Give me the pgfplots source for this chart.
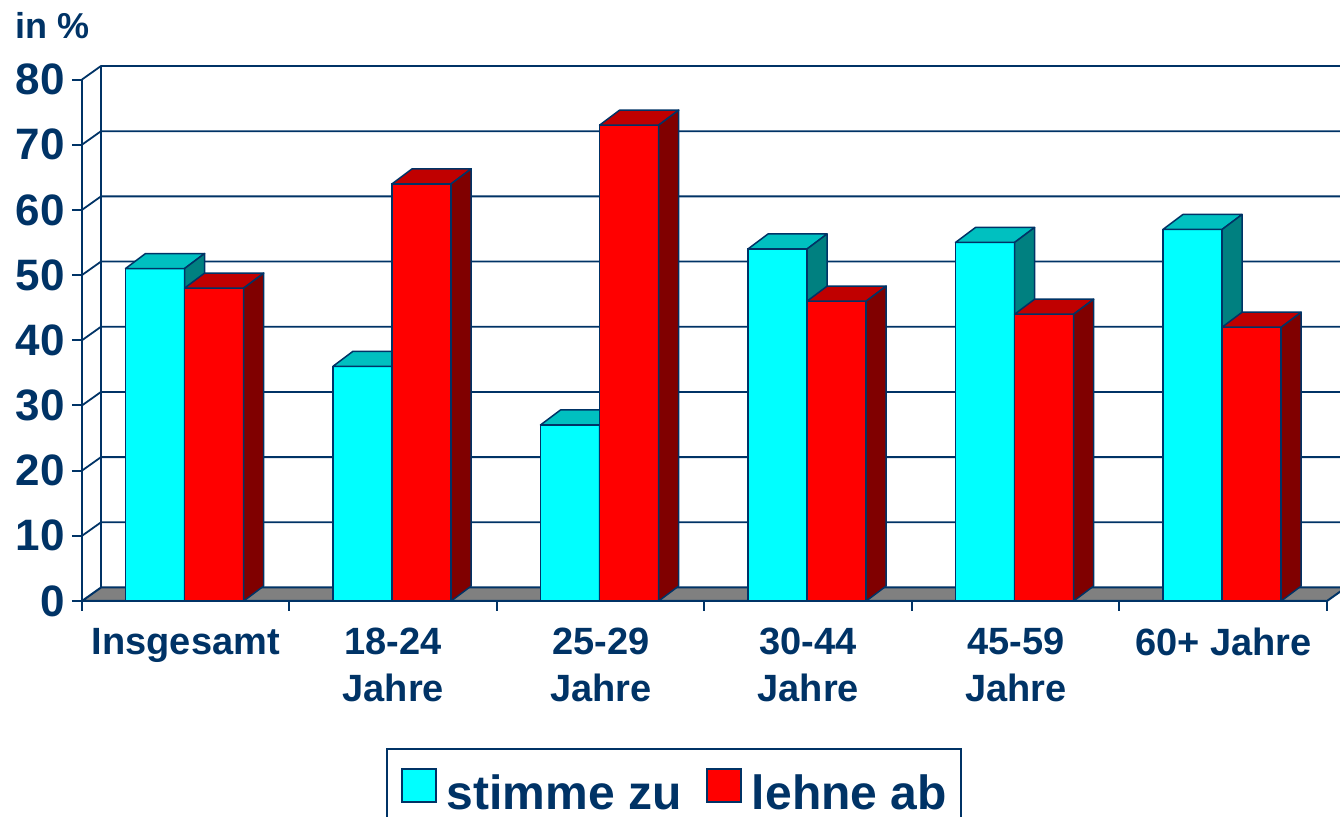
\documentclass[border=0pt]{standalone}
\usepackage{fontspec}
\setmainfont{Liberation Sans}
\usepackage{pgfplots}
\usepackage{pgfplotstable}
\pgfplotsset{compat=1.18}
\definecolor{navy}{HTML}{003366}
\definecolor{cyanfront}{HTML}{00FFFF}
\definecolor{redfront}{HTML}{FF0000}
\definecolor{cyantop}{HTML}{00C0C0}
\definecolor{cyanside}{HTML}{008080}
\definecolor{redtop}{HTML}{C00000}
\definecolor{redside}{HTML}{800000}
\definecolor{floorgray}{HTML}{808080}
\pgfdeclareplotmark{nothing}{}
\def\bw{14.78pt}
\def\dx{10pt}
\def\dy{7.5pt}
\def\yu{3.259375pt}
\pgfplotstableread{
x zu ab
0 51 48
1 36 64
2 27 73
3 54 46
4 55 44
5 57 42
}\datatable
\pgfplotsset{
  bar3d/.style n args={3}{
    scatter, only marks, mark=nothing, forget plot,
    visualization depends on={rawy \as \barh},
    scatter/@pre marker code/.code={%
      \filldraw[fill=#1, draw=navy, line width=0.75pt, line join=round]
        (-\bw,0pt) rectangle (\bw,{-\barh*\yu});
      \filldraw[fill=#2, draw=navy, line width=0.75pt, line join=round]
        (-\bw,0pt) -- ++(\dx,\dy) -- ++({2*\bw},0pt) -- (\bw,0pt) -- cycle;
      \filldraw[fill=#3, draw=navy, line width=0.75pt, line join=round]
        (\bw,0pt) -- ++(\dx,\dy) -- ({\bw+\dx},{\dy-\barh*\yu}) -- (\bw,{-\barh*\yu}) -- cycle;
    },
    scatter/@post marker code/.code={},
  },
  mylegend/.style={legend image code/.code={%
    \draw[##1, draw=navy, line width=0.75pt] (0pt,-4.25pt) rectangle (17pt,12.25pt);}},
}
\begin{document}
\begin{tikzpicture}
\path[use as bounding box] (0,0) rectangle (670pt,408.5pt);
\node[anchor=north west, inner sep=0pt, text=navy, font=\fontsize{18}{20}\selectfont\bfseries] at (7.5pt,402.5pt) {in \%};
\begin{axis}[
  at={(41pt,108pt)}, anchor=south west,
  scale only axis, width=622.5pt, height=260.75pt,
  xmin=0, xmax=6, ymin=0, ymax=80,
  clip=false,
  axis x line*=bottom, axis y line*=left,
  axis line style={-, draw=navy, line width=1pt},
  tick align=outside, major tick length=5pt,
  tick style={draw=navy, line width=1pt},
  xtick={0,1,2,3,4,5,6}, xticklabels={},
  ytick={0,10,...,80},
  /pgf/number format/assume math mode=true,
  yticklabel style={font=\fontsize{22}{22}\selectfont\bfseries, text=navy},
  extra x ticks={0.5,1.5,2.5,3.5,4.5,5.5},
  extra x tick labels={Insgesamt,{18-24\\Jahre},{25-29\\Jahre},{30-44\\Jahre},{45-59\\Jahre},{60+ Jahre}},
  extra x tick style={tick style={draw=none}, xticklabel style={align=center, anchor=north, inner sep=0pt, yshift=-8.5pt, font=\fontsize{19}{23.5}\selectfont\bfseries, text=navy}},
  legend columns=2,
  legend style={at={(0.4755,-0.2819)}, anchor=north, draw=navy, line width=1pt,
    font=\fontsize{24}{24}\selectfont\bfseries, text=navy,
    inner xsep=7pt, inner ysep=9.5pt, nodes={inner sep=0pt},
    /tikz/every odd column/.append style={column sep=5pt},
    /tikz/every even column/.append style={column sep=12.5pt}},
]
% floor
\filldraw[fill=floorgray, draw=navy, line width=1pt]
  (axis cs:0,0) -- (axis cs:6,0) -- ([shift={(9.5pt,6.75pt)}]axis cs:6,0) -- ([shift={(9.5pt,6.75pt)}]axis cs:0,0) -- cycle;
% back wall
\pgfplotsinvokeforeach{10,20,...,80}{
  \draw[navy, line width=0.9pt] (axis cs:0,#1) -- ([shift={(9.5pt,6.75pt)}]axis cs:0,#1) -- ([shift={(9.5pt,6.75pt)}]axis cs:6,#1);
}
\draw[navy, line width=1pt] ([shift={(9.5pt,6.75pt)}]axis cs:0,0) -- ([shift={(9.5pt,6.75pt)}]axis cs:0,80);

\addplot[ybar, bar width=0.285, bar shift=0pt, fill=cyanfront, draw=navy, line width=0.75pt, mylegend]
  table[x expr=\thisrow{x}+0.352, y=zu] {\datatable};
\addlegendentry{stimme zu}
\addplot[ybar, bar width=0.285, bar shift=0pt, fill=redfront, draw=navy, line width=0.75pt, mylegend]
  table[x expr=\thisrow{x}+0.637, y=ab] {\datatable};
\addlegendentry{lehne ab}
\addplot[bar3d={cyanfront}{cyantop}{cyanside}] table[x expr=\thisrow{x}+0.352, y=zu] {\datatable};
\addplot[bar3d={redfront}{redtop}{redside}] table[x expr=\thisrow{x}+0.637, y=ab] {\datatable};
\end{axis}
\end{tikzpicture}
\end{document}
